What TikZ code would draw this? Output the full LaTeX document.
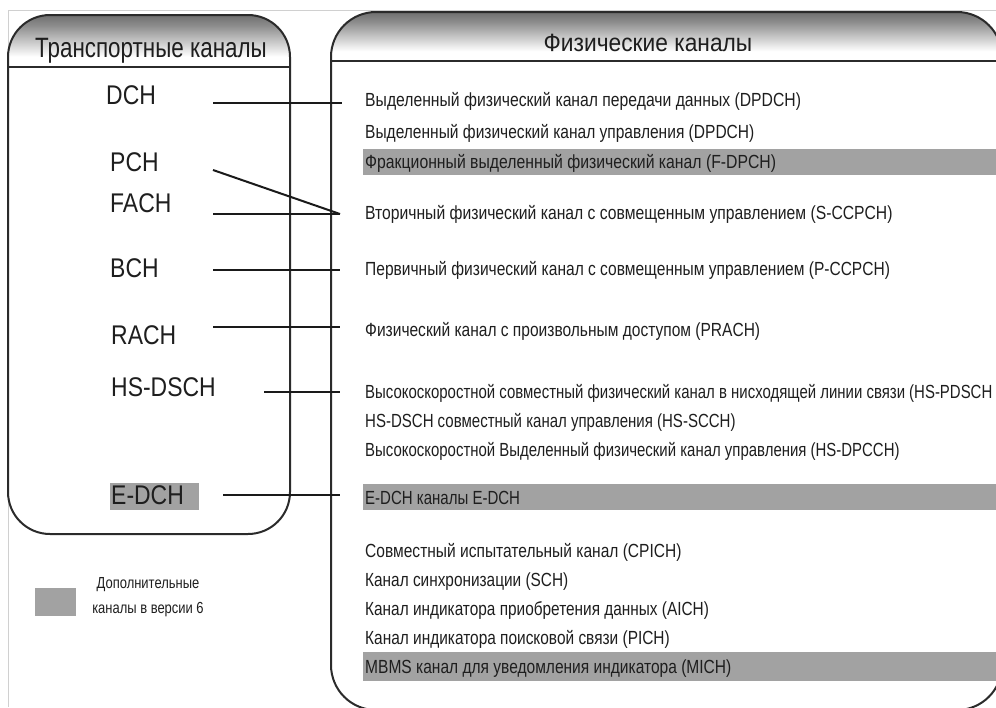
\documentclass[tikz,border=0pt]{standalone}
\usepackage{graphicx}
\usepackage{fontspec}
\setmainfont{Liberation Sans}
\newfontfamily\nar[FakeStretch=0.818]{Liberation Sans}
\newfontfamily\narH[FakeStretch=0.91]{Liberation Sans}
\newfontfamily\narL[FakeStretch=0.85]{Liberation Sans}
\newfontfamily\narT[FakeStretch=0.80]{Liberation Sans}
\newfontfamily\narG[FakeStretch=0.81]{Liberation Sans}
\newcommand\hsq[2]{\scalebox{#1}[1]{#2}}
\definecolor{txt}{HTML}{1E1E1E}
\definecolor{boxc}{HTML}{2B2B2B}
\definecolor{linec}{HTML}{1A1A1A}
\definecolor{barc}{HTML}{A2A2A2}
\definecolor{framec}{HTML}{D0D0D0}
\pgfdeclareverticalshading{hdrshade}{100bp}{color(0bp)=(white); color(35bp)=(white); color(65bp)=(black!45); color(100bp)=(black!85)}
\tikzset{
  box/.style={draw=boxc, line width=2pt},
  conn/.style={draw=linec, line width=2pt},
  bar/.style={fill=barc, draw=none},
  rt/.style={anchor=base west, inner sep=0pt, text=txt, font={\nar\fontsize{19}{21}\selectfont}},
  lt/.style={anchor=base west, inner sep=0pt, text=txt, font={\narL\fontsize{27}{29}\selectfont}},
  hdr/.style={anchor=base, inner sep=0pt, text=txt},
}
\begin{document}
\begin{tikzpicture}[x=1pt,y=-1pt]
\useasboundingbox (0,0) rectangle (996,707);
\begin{scope}
\clip (0,0) rectangle (996,707);
% faint frame
\draw[framec, line width=1pt] (8,707) -- (8,10) -- (996,10);
% grey highlight bars
\fill[bar] (363,149) rectangle (1000,175);
\fill[bar] (363,484) rectangle (1000,510);
\fill[bar] (363,652) rectangle (1000,681);
\fill[bar] (110,483) rectangle (199,510);
\fill[bar] (35,588) rectangle (76,616);
% header shadings
\begin{scope}
\clip[rounded corners=42pt] (8,15) rectangle (290,534);
\shade[shading=hdrshade] (8,15) rectangle (290,67);
\end{scope}
\begin{scope}
\clip[rounded corners=45pt] (331,12) rectangle (1002,710);
\shade[shading=hdrshade] (331,12) rectangle (1002,61);
\end{scope}
% boxes
\draw[box, rounded corners=42pt] (8,15) rectangle (290,534);
\draw[box, rounded corners=45pt] (331,12) rectangle (1002,710);
\draw[box] (8,67) -- (290,67);
\draw[box] (331,61) -- (1002,61);
% headers
\node[hdr, font={\narT\fontsize{28}{30}\selectfont}] (hT) at (151,57) {Транспортные каналы};
\node[hdr, font={\narH\fontsize{25}{27}\selectfont}] (hF) at (648,51) {Физические каналы};
% transport channels
\node[lt] (DCH) at (106,104.7) {DCH};
\node[lt] (PCH) at (110,171.7) {PCH};
\node[lt] (FACH) at (110,212.7) {FACH};
\node[lt] (BCH) at (110,277.7) {BCH};
\node[lt] (RACH) at (111,344.7) {RACH};
\node[lt] (HSDSCH) at (111,396.7) {HS-DSCH};
\node[lt] (EDCH) at (111,504.7) {E-DCH};
% physical channels
\node[rt] (p1) at (365,106) {\hsq{1.012}{Выделенный физический канал передачи данных (DPDCH)}};
\node[rt] (p2) at (365,138) {Выделенный физический канал управления (DPDCH)};
\node[rt] (p3) at (365,168) {\hsq{1.015}{Фракционный выделенный физический канал (F-DPCH)}};
\node[rt] (p4) at (365,219) {\hsq{1.01}{Вторичный физический канал с совмещенным управлением (S-CCPCH)}};
\node[rt] (p5) at (365,275) {Первичный физический канал с совмещенным управлением (P-CCPCH)};
\node[rt] (p6) at (365,336) {Физический канал с произвольным доступом (PRACH)};
\node[rt] (p7) at (365,398) {\hsq{0.962}{Высокоскоростной совместный физический канал в нисходящей линии связи (HS-PDSCH}};
\node[rt] (p8) at (365,427) {\hsq{0.966}{HS-DSCH совместный канал управления (HS-SCCH)}};
\node[rt] (p9) at (365,456) {\hsq{0.962}{Высокоскоростной Выделенный физический канал управления (HS-DPCCH)}};
\node[rt] (p10) at (365,504) {\hsq{0.966}{E-DCH каналы E-DCH}};
\node[rt] (p11) at (365,557) {Совместный испытательный канал (CPICH)};
\node[rt] (p12) at (365,586) {\hsq{0.99}{Канал синхронизации (SCH)}};
\node[rt] (p13) at (365,615) {\hsq{0.99}{Канал индикатора приобретения данных (AICH)}};
\node[rt] (p14) at (365,644) {\hsq{0.993}{Канал индикатора поисковой связи (PICH)}};
\node[rt] (p15) at (365,673) {MBMS канал для уведомления индикатора (MICH)};
% legend
\node[inner sep=0pt, align=center, text=txt, font={\narG\fontsize{16}{25}\selectfont}] (leg) at (148,597) {Дополнительные\\каналы в версии 6};
% connector end points
\coordinate (cDCHa) at (213,103);   \coordinate (cDCHb) at (342,103);
\coordinate (cPCHa) at (213,170);   \coordinate (cS) at (340,214);
\coordinate (cFACHa) at (213,214);
\coordinate (cBCHa) at (213,270);   \coordinate (cBCHb) at (340,270);
\coordinate (cRACHa) at (213,327);  \coordinate (cRACHb) at (340,327);
\coordinate (cHSa) at (264,392);    \coordinate (cHSb) at (340,392);
\coordinate (cEa) at (223,495);     \coordinate (cEb) at (340,495);
\draw[conn] (cDCHa) -- (cDCHb);
\draw[conn] (cPCHa) -- (cS);
\draw[conn] (cFACHa) -- (cS);
\draw[conn] (cBCHa) -- (cBCHb);
\draw[conn] (cRACHa) -- (cRACHb);
\draw[conn] (cHSa) -- (cHSb);
\draw[conn] (cEa) -- (cEb);
\end{scope}
\end{tikzpicture}
\end{document}
